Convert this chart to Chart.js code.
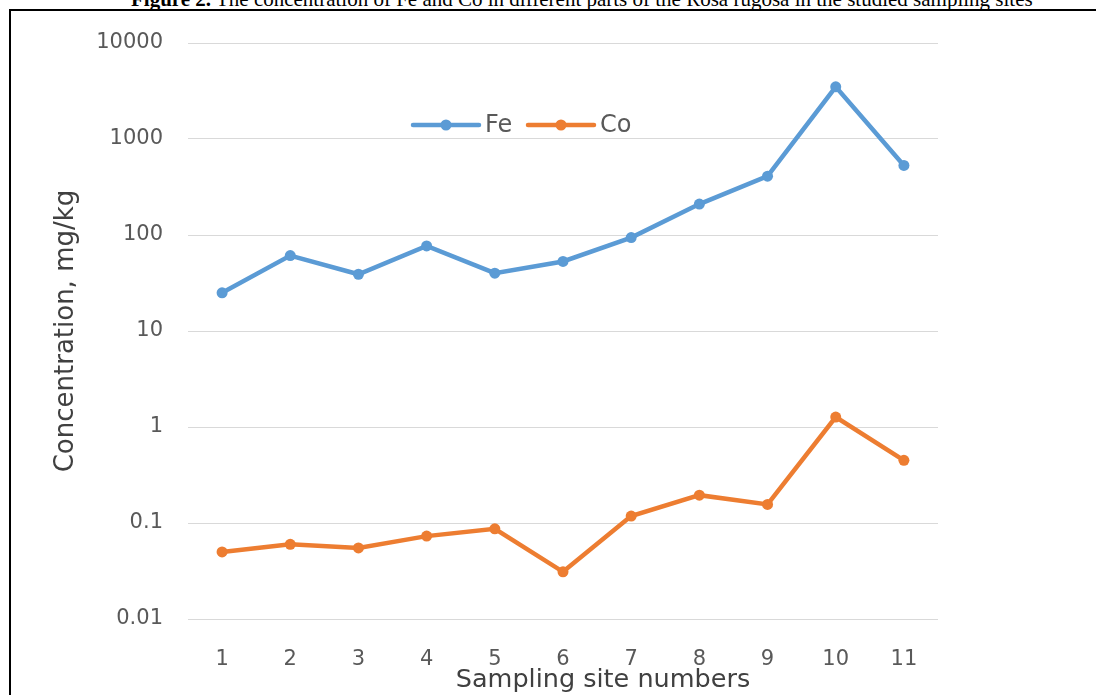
<!DOCTYPE html>
<html>
<head>
<meta charset="utf-8">
<script src="https://cdn.jsdelivr.net/npm/chart.js@4.4.1/dist/chart.umd.min.js"></script>
<style>
  html, body { margin: 0; padding: 0; background: #fff; overflow: hidden; }
  #wrap { position: relative; width: 1096px; height: 695px; }
  #caption { position: absolute; left: 131px; top: -11px; font: 21px/21px "Liberation Serif", serif; color: #000; white-space: nowrap; }
  #frame { position: absolute; left: 9px; top: 9px; width: 1200px; height: 800px; border-left: 2px solid #000; border-top: 2px solid #000; }
  #chart { position: absolute; left: 0; top: 0; }
</style>
</head>
<body>
<div id="wrap">
  <div id="caption"><b>Figure 2.</b> The concentration of Fe and Co in different parts of the Rosa rugosa in the studied sampling sites</div>
  <div id="frame"></div>
  <canvas id="chart" width="1096" height="695"></canvas>
</div>
<script>
  // ---------- dados ----------
  const SITES = ['1', '2', '3', '4', '5', '6', '7', '8', '9', '10', '11'];
  const FE = [25, 61, 39, 77, 40, 53, 94, 210, 410, 3500, 530];
  const CO = [0.050, 0.060, 0.055, 0.073, 0.087, 0.031, 0.118, 0.195, 0.156, 1.27, 0.45];
  const Y_TICKS = [0.01, 0.1, 1, 10, 100, 1000, 10000];
  const X_TITLE = 'Sampling site numbers';

  const BLUE = '#5B9BD5', ORANGE = '#ED7D31';
  const TXT = '#595959';
  const FONT = '"DejaVu Sans", sans-serif';

  // ---------- legenda dentro da área + título do eixo x deslocado ----------
  const extras = {
    id: 'extras',
    afterDatasetsDraw(chart, args, o) {
      const ctx = chart.ctx;
      chart.data.datasets.forEach((ds, i) => {
        const x = o.xs[i], y = o.y;
        ctx.save();
        ctx.strokeStyle = ds.borderColor; ctx.lineWidth = 4.5; ctx.lineCap = 'round';
        ctx.beginPath(); ctx.moveTo(x, y); ctx.lineTo(x + o.len, y); ctx.stroke();
        ctx.fillStyle = ds.borderColor;
        ctx.beginPath(); ctx.arc(x + o.len / 2, y, 5.5, 0, Math.PI * 2); ctx.fill();
        ctx.fillStyle = TXT; ctx.font = '24px ' + FONT; ctx.textBaseline = 'middle';
        ctx.fillText(ds.label, x + o.len + 6, y + 1);
        ctx.restore();
      });
      ctx.save();
      ctx.fillStyle = '#404040'; ctx.font = '25.5px ' + FONT;
      ctx.textAlign = 'center'; ctx.textBaseline = 'middle';
      ctx.fillText(X_TITLE, o.titleX, o.titleY);
      ctx.restore();
    },
  };

  function lineDS(label, data, color) {
    return { label, data, borderColor: color, backgroundColor: color, borderWidth: 4.5, pointRadius: 5.5, pointHoverRadius: 6, pointBorderWidth: 0, tension: 0 };
  }

  new Chart(document.getElementById('chart'), {
    type: 'line',
    data: { labels: SITES, datasets: [lineDS('Fe', FE, BLUE), lineDS('Co', CO, ORANGE)] },
    options: {
      responsive: false, animation: false,
      layout: { padding: { top: 43, right: 158, bottom: 0, left: 0 } },
      plugins: { legend: { display: false }, tooltip: { enabled: false }, extras: { xs: [413, 528], y: 125, len: 66, titleX: 603, titleY: 680 } },
      scales: {
        x: {
          offset: true,
          grid: { display: false, drawTicks: false },
          border: { display: false },
          ticks: { color: TXT, font: { family: FONT, size: 21 }, padding: 28 },
          afterFit: (s) => { s.height = 76; },
        },
        y: {
          type: 'logarithmic', min: 0.01, max: 10000,
          afterBuildTicks: (s) => { s.ticks = Y_TICKS.map((v) => ({ value: v })); },
          grid: { color: '#d9d9d9', lineWidth: 1, drawTicks: false },
          border: { display: false },
          ticks: { color: TXT, font: { family: FONT, size: 21 }, padding: 25, callback: (v) => String(v) },
          title: { display: true, text: 'Concentration, mg/kg', color: '#404040', font: { family: FONT, size: 26, lineHeight: 1 }, padding: { top: 53, bottom: 0 } },
          afterFit: (s) => { s.width = 188; },
        },
      },
    },
    plugins: [extras],
  });
</script>
</body>
</html>
